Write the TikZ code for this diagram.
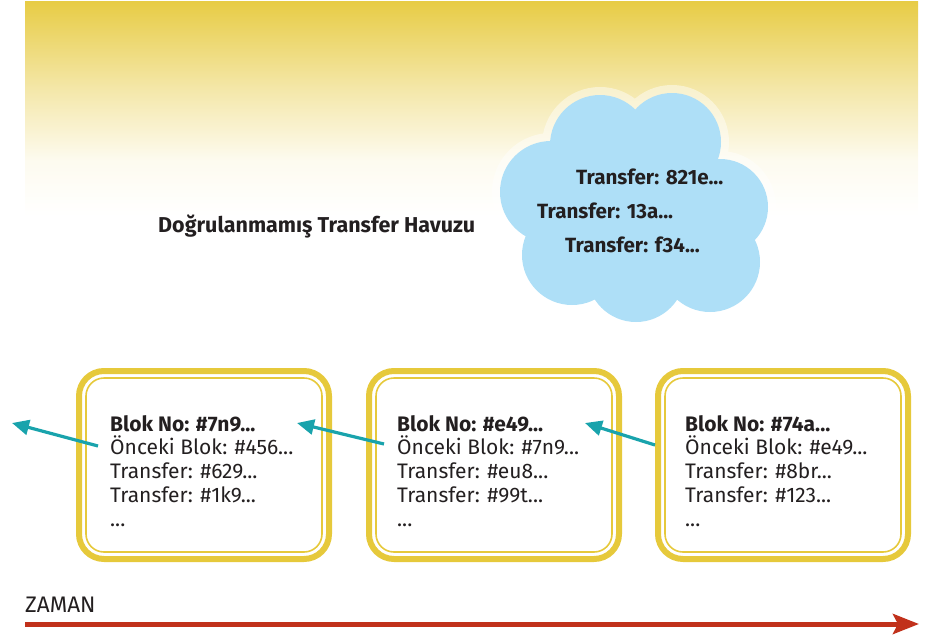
\documentclass[tikz,border=0pt]{standalone}
\usepackage{fontspec}
\setmainfont{Fira Sans}
\usetikzlibrary{arrows.meta,calc}
\definecolor{gold}{HTML}{E6C93B}
\definecolor{teal2}{HTML}{19A3AC}
\definecolor{timered}{HTML}{C1311B}
\definecolor{cloudblue}{HTML}{AEDFF7}
\definecolor{ink}{HTML}{231F20}
\pgfdeclareverticalshading{band}{100bp}{color(0bp)=(white); color(25bp)=(white); color(38bp)=(gold!8!white); color(55bp)=(gold!45!white); color(75bp)=(gold!95!white); color(100bp)=(gold!95!white)}
\tikzset{
  blockbox/.style={draw=gold, line width=6pt, rounded corners=25pt, minimum width=250pt, minimum height=188pt, inner sep=0pt},
  innerbox/.style={draw=gold, line width=1.6pt, rounded corners=18pt, minimum width=236pt, minimum height=174pt, inner sep=0pt},
  blocktext/.style={anchor=north west, align=left, inner sep=0pt, text=ink, font=\fontsize{21}{23.8}\selectfont},
  cloudtext/.style={anchor=base west, inner sep=0pt, text=ink, font=\fontsize{20.6}{23}\selectfont\bfseries},
  chain/.style={draw=teal2, line width=3.2pt, -{Triangle[length=17pt,width=15pt]}},
  timeline/.style={draw=timered, line width=5pt, -{Stealth[length=26pt,width=20pt,inset=5pt]}},
}
\begin{document}
\begin{tikzpicture}[x=1pt,y=-1pt]
\useasboundingbox (0,0) rectangle (929,640);
% background band
\shade[shading=band] (25,1) rectangle (918,216);
% cloud glow
\begin{scope}[transparency group, opacity=0.45]
  \fill[white] (600,145) circle (58) (672,142) circle (57) (720,207) circle (56)
  (710,262) circle (58) (636,273) circle (57) (572,255) circle (58) (551,192) circle (59) (630,210) circle (80);
\end{scope}
% cloud
\fill[cloudblue] (600,145) circle (50) (672,142) circle (49) (720,207) circle (48)
  (710,262) circle (50) (636,273) circle (49) (572,255) circle (50) (551,192) circle (51) (630,210) circle (75);
\node[cloudtext] (c1) at (576,184) {Transfer: 821e...};
\node[cloudtext] (c2) at (537,218) {Transfer: 13a...};
\node[cloudtext] (c3) at (565,252) {Transfer: f34...};
\node[cloudtext, font=\fontsize{21.5}{23}\selectfont\bfseries] (pool) at (158,232) {Doğrulanmamış Transfer Havuzu};
% blocks
\foreach \n/\cx in {1/204, 2/494, 3/783}{
  \node[blockbox] (b\n) at (\cx,465) {};
  \node[innerbox] (i\n) at (b\n.center) {};
}
\node[blocktext] (t1) at (110,415) {\textbf{Blok No: \#7n9...}\\Önceki Blok: \#456...\\Transfer: \#629...\\Transfer: \#1k9...\\...};
\node[blocktext] (t2) at (397,415) {\textbf{Blok No: \#e49...}\\Önceki Blok: \#7n9...\\Transfer: \#eu8...\\Transfer: \#99t...\\...};
\node[blocktext] (t3) at (685,415) {\textbf{Blok No: \#74a...}\\Önceki Blok: \#e49...\\Transfer: \#8br...\\Transfer: \#123...\\...};
% chain arrows
\coordinate (s1) at (98,446);
\coordinate (s2) at (384,444);
\coordinate (s3) at (655,445);
\coordinate (h0) at (12,423);
\coordinate (h1) at (297,423);
\coordinate (h2) at (585,423);
\draw[chain] (s1) -- (h0);
\draw[chain] (s2) -- (h1);
\draw[chain] (s3) -- (h2);
% time
\node[anchor=base west, inner sep=0pt, text=ink, font=\fontsize{22.5}{24}\selectfont] (zaman) at (25,612) {ZAMAN};
\coordinate (ts) at (25,624);
\coordinate (te) at (919,624);
\draw[timeline] (ts) -- (te);
\end{tikzpicture}
\end{document}
